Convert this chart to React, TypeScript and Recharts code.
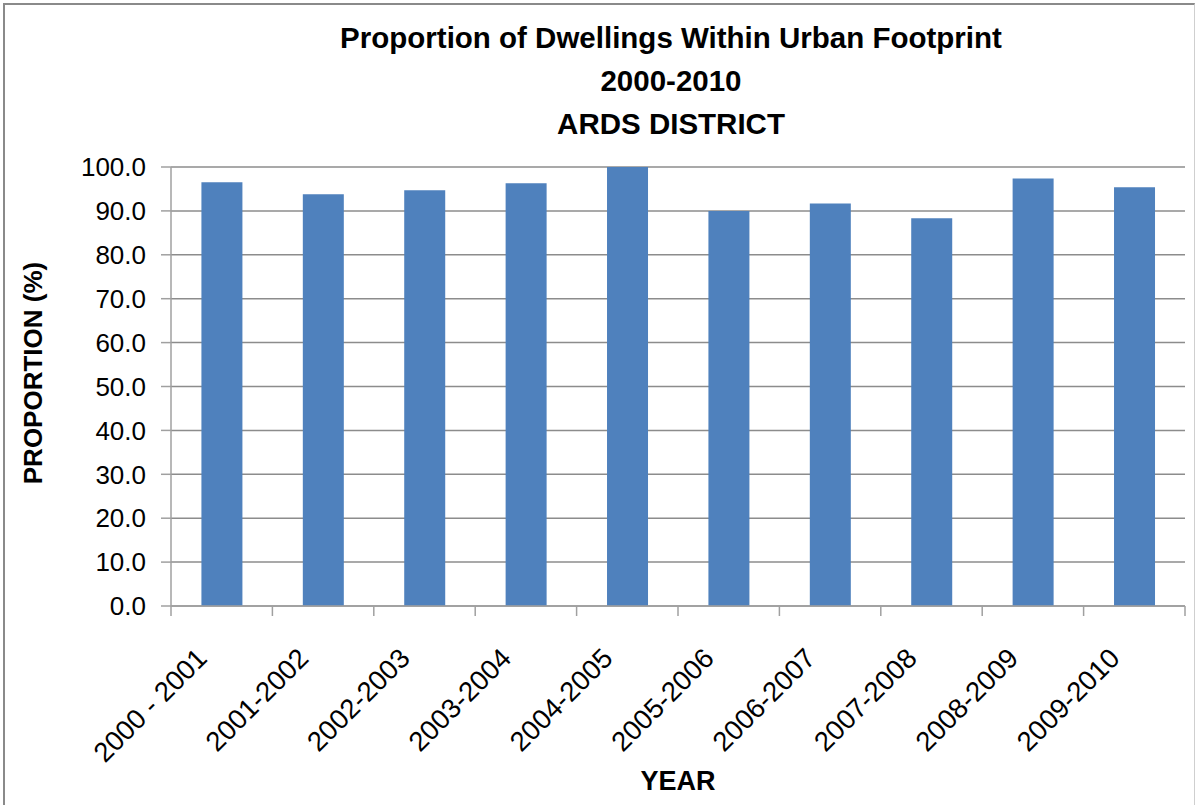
import { BarChart, Bar, XAxis, YAxis, CartesianGrid, Label } from 'recharts'

const years = [
  '2000 - 2001', '2001-2002', '2002-2003', '2003-2004', '2004-2005',
  '2005-2006', '2006-2007', '2007-2008', '2008-2009', '2009-2010',
]
const proportion = [96.5, 93.8, 94.7, 96.3, 100.0, 90.0, 91.7, 88.3, 97.4, 95.4]
const yTicks = [0, 10, 20, 30, 40, 50, 60, 70, 80, 90, 100]
const titleLines = ['Proportion of Dwellings Within Urban Footprint', '2000-2010', 'ARDS DISTRICT']

const data = years.map((year, i) => ({ year, value: proportion[i] }))

const W = 1198
const H = 805
const MARGIN = { top: 167, right: 13, left: 0, bottom: 0 }
const Y_AXIS_W = 171
const X_AXIS_H = 199
const BAND = (W - MARGIN.left - MARGIN.right - Y_AXIS_W) / years.length
const FONT = '"Liberation Sans", Arial, sans-serif'

const XTick = (props: any) => {
  const { x, y, payload, index } = props
  const left = x - BAND / 2
  const tx = x - 13
  const ty = y + 54
  return (
    <g>
      <line x1={left} y1={y} x2={left} y2={y + 10} stroke="#a0a0a0" strokeWidth={1.5} />
      {index === years.length - 1 && (
        <line x1={x + BAND / 2} y1={y} x2={x + BAND / 2} y2={y + 10} stroke="#a0a0a0" strokeWidth={1.5} />
      )}
      <text
        x={tx}
        y={ty}
        textAnchor="end"
        transform={`rotate(-45 ${tx} ${ty})`}
        fontSize={27.5}
        fontFamily={FONT}
        fill="#000"
      >
        {payload.value}
      </text>
    </g>
  )
}

const YTitle = () => (
  <text
    x={42}
    y={373}
    textAnchor="middle"
    transform="rotate(-90 42 373)"
    fontFamily={FONT}
    fontWeight="bold"
    fontSize={26}
    fill="#000"
  >
    PROPORTION (%)
  </text>
)

export default function App() {
  return (
    <div style={{ position: 'absolute', left: 0, top: 0, width: W, height: H, background: '#fff' }}>
      <div
        style={{
          position: 'absolute', left: 3, top: 3, width: W - 6, height: H,
          borderLeft: '2px solid #8a8a8a', borderTop: '2px solid #8a8a8a', borderRight: '1px solid #cfcfcf',
          boxSizing: 'border-box',
        }}
      />
      <div style={{ position: 'absolute', left: 171, width: 1000, top: 16, textAlign: 'center', fontFamily: FONT, fontWeight: 'bold', fontSize: 29.5, lineHeight: '43px', color: '#000' }}>
        {titleLines.map(t => <div key={t}>{t}</div>)}
      </div>
      <BarChart width={W} height={H} data={data} margin={MARGIN} barCategoryGap="30%">
        <CartesianGrid horizontal vertical={false} stroke="#8c8c8c" strokeWidth={1.5} />
        <XAxis
          dataKey="year"
          height={X_AXIS_H}
          tickSize={0}
          tickMargin={0}
          tick={<XTick />}
          interval={0}
          stroke="#a0a0a0"
          strokeWidth={1.5}
        >
          <Label
            value="YEAR"
            position="insideBottom"
            offset={15}
            style={{ fontFamily: FONT, fontWeight: 'bold', fontSize: 27, fill: '#000' }}
          />
        </XAxis>
        <YAxis
          width={Y_AXIS_W}
          domain={[0, 100]}
          ticks={yTicks}
          interval={0}
          tickFormatter={(v: number) => v.toFixed(1)}
          tickSize={10}
          tickMargin={15}
          tick={{ fontSize: 26, fontFamily: FONT, fill: '#000' }}
          stroke="#a0a0a0"
          strokeWidth={1.5}
        >
          <Label content={<YTitle />} />
        </YAxis>
        <Bar dataKey="value" fill="#4f81bd" isAnimationActive={false} />
      </BarChart>
    </div>
  )
}
